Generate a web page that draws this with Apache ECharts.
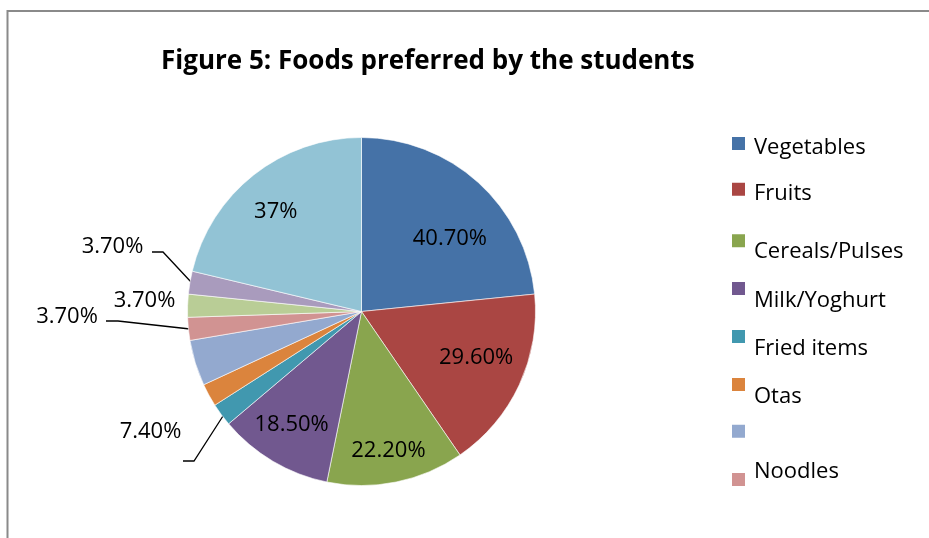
<!DOCTYPE html>
<html><head><meta charset="utf-8">
<script src="https://cdn.jsdelivr.net/npm/echarts@6/dist/echarts.min.js"></script>
<style>html,body{margin:0;padding:0;background:#fff}#c{width:929px;height:538px}</style>
</head><body><div id="c"></div>
<script>
// ---- data ----
const categories = ['Vegetables', 'Fruits', 'Cereals/Pulses', 'Milk/Yoghurt', 'Fried items', 'Otas', ' ', 'Noodles', 'Others A', 'Others B', 'Others C'];
const values = [40.7, 29.6, 22.2, 18.5, 3.7, 3.7, 7.4, 3.7, 3.7, 3.7, 37];
const labelTexts = ['40.70%', '29.60%', '22.20%', '18.50%', '', '', '7.40%', '3.70%', '3.70%', '3.70%', '37%'];
const legendNames = ['Vegetables', 'Fruits', 'Cereals/Pulses', 'Milk/Yoghurt', 'Fried items', 'Otas', ' ', 'Noodles'];

// ---- styles ----
const colors = ['#4572A7', '#AA4643', '#89A54E', '#71588F', '#4198AF', '#DB843D', '#93A9CF', '#D19392', '#B9CD96', '#A99BBD', '#92C3D5'];
const FONT = 'Open Sans';
const FS = 22;
const insideIdx = [0, 1, 2, 3, 10];
// nudges of inside labels relative to ECharts' default inside position
const insideShift = {0: [28, -6], 1: [33, 8], 2: [9, 51], 3: [-24, 36], 10: [-30, -29]};
// outside labels: text centre and leader line (from sector to text)
const outsideLayout = {
  9: {x: 112.5, y: 246.5, line: [[191, 282], [163, 252], [152, 252]]},
  8: {x: 144.5, y: 301, line: null},
  7: {x: 67, y: 317, line: [[190, 329], [118, 321], [106, 321]]},
  6: {x: 150.5, y: 432, line: [[223, 416], [194, 461], [183, 461]]}
};
// legend: icon tops and text vertical offsets
const legendIconTop = [136, 181.7, 233.3, 281, 329, 377, 425.7, 474];
const legendTextShift = [4, 5, 11, 12, 12, 12.5, 0, -8];

const data = categories.map((name, i) => {
  const inside = insideIdx.includes(i);
  const show = labelTexts[i] !== '';
  return {
    name: name,
    value: values[i],
    itemStyle: {color: colors[i]},
    label: {show: show, position: inside ? 'inside' : 'outside'},
    labelLine: {show: show && !inside && !!(outsideLayout[i] && outsideLayout[i].line)}
  };
});

const LH = 26;
const legends = legendNames.map((n, i) => {
  const d = legendTextShift[i];
  const sp = 2 * Math.abs(d);
  let fmt;
  if (d > 0) fmt = nm => '{s| }\n{t|' + nm + '}';
  else if (d < 0) fmt = nm => '{t|' + nm + '}\n{s| }';
  else fmt = nm => '{t|' + nm + '}';
  const boxH = LH + (d !== 0 ? sp : 0);
  return {
    data: [{name: n, icon: 'rect'}],
    orient: 'vertical',
    left: 730,
    top: legendIconTop[i] + Math.min(0, 7.5 - boxH / 2),
    padding: 0,
    itemWidth: 15,
    itemHeight: 15,
    selectedMode: false,
    formatter: fmt,
    textStyle: {
      fontFamily: FONT, fontSize: FS, color: '#000', padding: [0, 0, 0, 3],
      rich: {
        s: {fontSize: 1, lineHeight: sp || 1, height: sp || 1},
        t: {fontFamily: FONT, fontSize: FS, color: '#000', lineHeight: LH}
      }
    }
  };
});

const chart = echarts.init(document.getElementById('c'), null, {renderer: 'canvas'});
chart.setOption({
  animation: false,
  backgroundColor: '#fff',
  title: {
    text: 'Figure 5: Foods preferred by the students',
    left: 156, top: 44,
    textStyle: {fontFamily: FONT, fontWeight: 'bold', fontSize: 26, color: '#000'}
  },
  legend: legends,
  graphic: [{
    type: 'rect', silent: true,
    shape: {x: 7.5, y: 11, width: 1200, height: 1200},
    style: {fill: 'none', stroke: '#8a8a8a', lineWidth: 2}
  }],
  series: [{
    type: 'pie',
    center: [361.5, 311.5],
    radius: 174,
    startAngle: 90,
    clockwise: true,
    avoidLabelOverlap: false,
    itemStyle: {borderColor: '#fff', borderWidth: 0.6},
    label: {
      fontFamily: FONT, fontSize: FS, color: '#000',
      formatter: p => labelTexts[p.dataIndex]
    },
    labelLine: {lineStyle: {color: '#000', width: 1.3}, length: 10, length2: 10},
    labelLayout: function (p) {
      const i = p.dataIndex;
      if (insideShift[i]) return {dx: insideShift[i][0], dy: insideShift[i][1]};
      const o = outsideLayout[i];
      if (o) {
        const r = {x: o.x, y: o.y, align: 'center', verticalAlign: 'middle'};
        if (o.line) r.labelLinePoints = o.line;
        return r;
      }
      return {};
    },
    emphasis: {disabled: true},
    data: data
  }]
});
</script>
</body></html>
